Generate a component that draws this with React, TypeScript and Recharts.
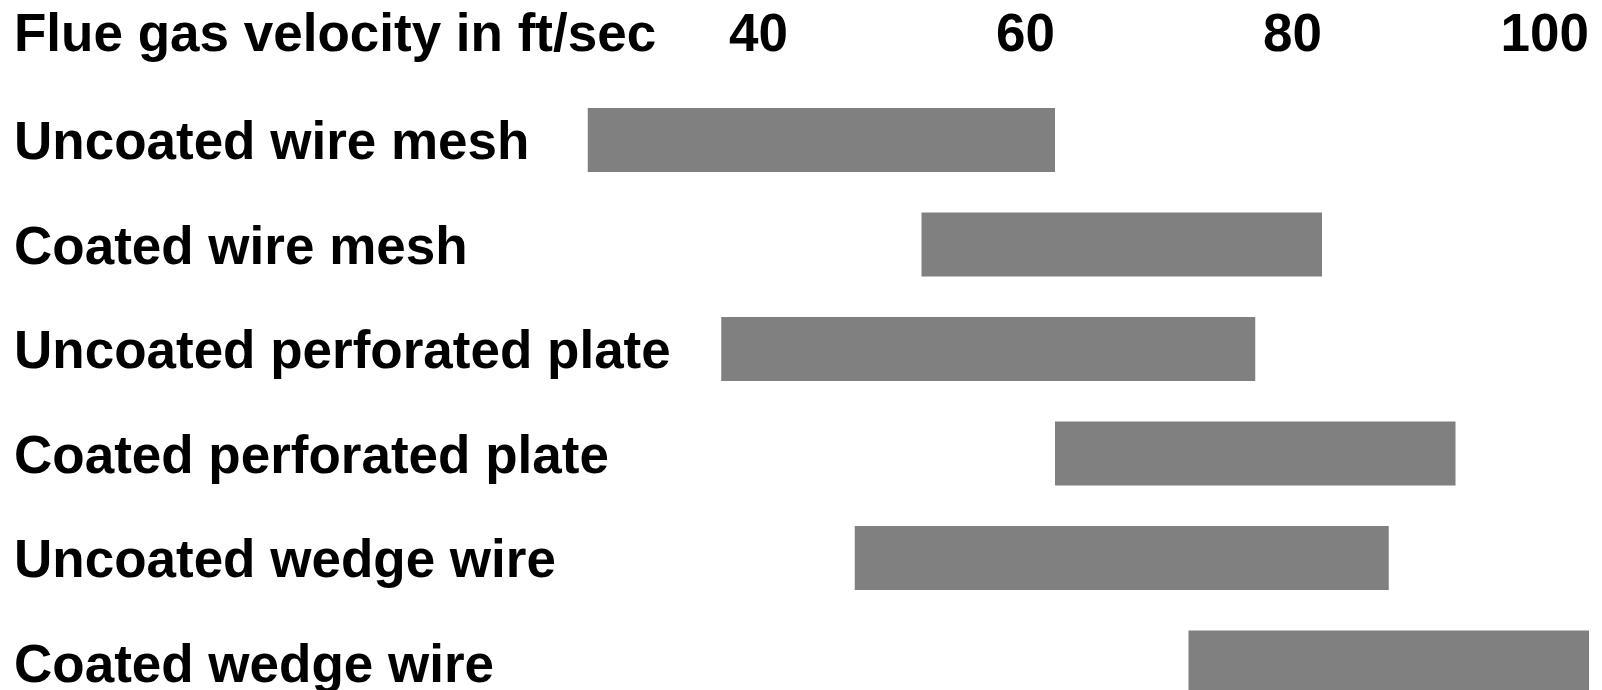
import { BarChart, Bar, XAxis, YAxis } from 'recharts';

const CATEGORIES = [
  'Uncoated wire mesh',
  'Coated wire mesh',
  'Uncoated perforated plate',
  'Coated perforated plate',
  'Uncoated wedge wire',
  'Coated wedge wire',
];
const LOW = [25, 50, 35, 60, 45, 70];
const HIGH = [60, 80, 75, 90, 85, 100];
const TICKS = [40, 60, 80, 100];

const FONT = '"Liberation Sans", Arial, sans-serif';
const BAR_COLOR = '#808080';

const data = CATEGORIES.map((name, i) => ({ name, range: [LOW[i], HIGH[i]] }));

function CategoryTick({ y, payload }: any) {
  return (
    <text x={14} y={y} dy={19} textAnchor="start" fontSize={53} fontWeight="bold" fontFamily={FONT} fill="#000">
      {payload.value}
    </text>
  );
}

function VelocityTick({ x, payload }: any) {
  return (
    <text x={x} y={51} textAnchor="end" fontSize={53} fontWeight="bold" fontFamily={FONT} fill="#000">
      {payload.value}
    </text>
  );
}

export default function App() {
  return (
    <div style={{ position: 'absolute', left: 0, top: 0, width: 1602, height: 690, overflow: 'hidden', background: '#fff' }}>
      <BarChart
        width={1602}
        height={730}
        data={data}
        layout="vertical"
        margin={{ top: 0, right: 13, bottom: 15, left: 0 }}
      >
        <XAxis
          type="number"
          orientation="top"
          domain={[20, 100]}
          ticks={TICKS}
          height={88}
          axisLine={false}
          tickLine={false}
          tick={<VelocityTick />}
          allowDataOverflow
        />
        <YAxis
          type="category"
          dataKey="name"
          width={521}
          axisLine={false}
          tickLine={false}
          tick={<CategoryTick />}
          interval={0}
        />
        <Bar dataKey="range" fill={BAR_COLOR} barSize={64} isAnimationActive={false} />
        <text x={14} y={51} fontSize={53} fontWeight="bold" fontFamily={FONT} fill="#000">
          Flue gas velocity in ft/sec
        </text>
      </BarChart>
    </div>
  );
}
